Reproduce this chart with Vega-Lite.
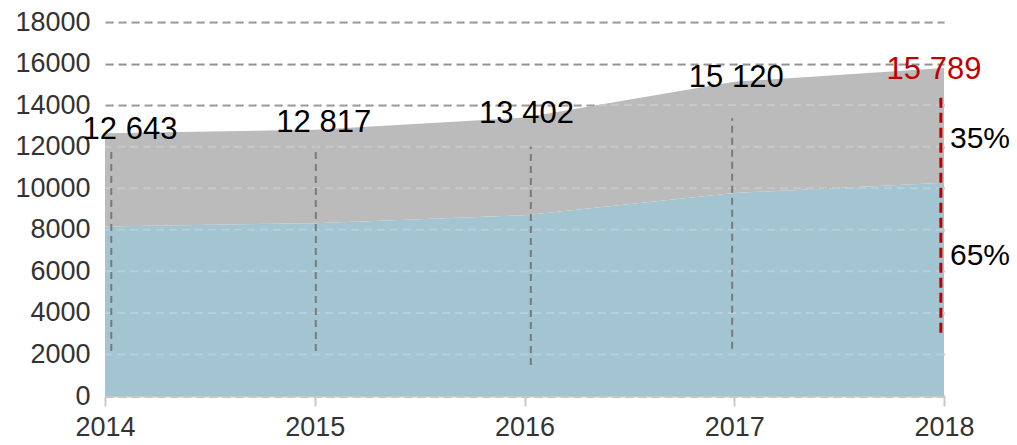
{
  "$schema": "https://vega.github.io/schema/vega-lite/v6.json",
  "width": 839,
  "height": 374,
  "autosize": {"type": "none"},
  "padding": {"left": 105, "top": 22, "right": 73, "bottom": 49},
  "config": {
    "view": {"stroke": null},
    "font": "Liberation Sans",
    "text": {"font": "Liberation Sans"}
  },
  "resolve": {"scale": {"color": "independent"}},
  "datasets": {
    "series": [
      {"year": 2014, "part": "65%", "value": 8160, "ord": 1},
      {"year": 2015, "part": "65%", "value": 8320, "ord": 1},
      {"year": 2016, "part": "65%", "value": 8700, "ord": 1},
      {"year": 2017, "part": "65%", "value": 9770, "ord": 1},
      {"year": 2018, "part": "65%", "value": 10260, "ord": 1},
      {"year": 2014, "part": "35%", "value": 4483, "ord": 2},
      {"year": 2015, "part": "35%", "value": 4497, "ord": 2},
      {"year": 2016, "part": "35%", "value": 4702, "ord": 2},
      {"year": 2017, "part": "35%", "value": 5350, "ord": 2},
      {"year": 2018, "part": "35%", "value": 5529, "ord": 2}
    ],
    "totals": [
      {"year": 2014, "total": 12643, "label": "12 643", "grp": "a"},
      {"year": 2015, "total": 12817, "label": "12 817", "grp": "b"},
      {"year": 2016, "total": 13402, "label": "13 402", "grp": "c"},
      {"year": 2017, "total": 15120, "label": "15 120", "grp": "c"},
      {"year": 2018, "total": 15789, "label": "15 789", "grp": "d"}
    ],
    "drops": [
      {"year": 2014.03, "low": 2170, "high": 12000, "kind": "grey"},
      {"year": 2015.005, "low": 2170, "high": 12000, "kind": "grey"},
      {"year": 2016.03, "low": 1490, "high": 12000, "kind": "grey"},
      {"year": 2016.99, "low": 2270, "high": 13370, "kind": "grey"},
      {"year": 2017.985, "low": 3050, "high": 14400, "kind": "red"}
    ],
    "shares": [
      {"year": 2018, "pos": 12360, "label": "35%"},
      {"year": 2018, "pos": 6750, "label": "65%"}
    ],
    "grid": [
      {"g": 2000}, {"g": 4000}, {"g": 6000}, {"g": 8000}, {"g": 10000},
      {"g": 12000}, {"g": 14000}, {"g": 16000}, {"g": 18000}
    ]
  },
  "layer": [
    {
      "data": {"name": "series"},
      "mark": {"type": "area", "interpolate": "linear"},
      "encoding": {
        "x": {
          "field": "year", "type": "quantitative",
          "scale": {"domain": [2014, 2018], "nice": false, "zero": false},
          "axis": {
            "values": [2014, 2015, 2016, 2017, 2018], "format": "d", "title": null,
            "grid": false, "domainColor": "#c8c8c8", "domainWidth": 2,
            "tickColor": "#c8c8c8", "tickWidth": 2, "tickSize": 10,
            "labelFontSize": 27, "labelColor": "#333333", "labelPadding": 8,
            "labelFont": "Liberation Sans", "labelFlush": false
          }
        },
        "y": {
          "field": "value", "type": "quantitative", "stack": "zero",
          "scale": {"domain": [0, 18000], "nice": false},
          "axis": {
            "values": [0, 2000, 4000, 6000, 8000, 10000, 12000, 14000, 16000, 18000],
            "format": "d", "title": null, "domain": false, "ticks": false,
            "grid": true, "gridColor": "#888888", "gridDash": [8, 5], "gridWidth": 2,
            "labelFontSize": 27, "labelColor": "#333333", "labelPadding": 15,
            "labelFont": "Liberation Sans"
          }
        },
        "color": {
          "field": "part", "type": "nominal",
          "scale": {"domain": ["65%", "35%"], "range": ["#a3c5d1", "#bbbbbb"]},
          "legend": null
        },
        "order": {"field": "ord", "type": "quantitative"}
      }
    },
    {
      "data": {"name": "grid"},
      "mark": {"type": "rule", "color": "#ffffff", "opacity": 0.2, "strokeWidth": 2, "strokeDash": [8, 5]},
      "encoding": {
        "y": {"field": "g", "type": "quantitative"}
      }
    },
    {
      "data": {"name": "drops"},
      "transform": [{"filter": "datum.kind === 'grey'"}],
      "mark": {"type": "rule", "strokeWidth": 2, "strokeDash": [7, 5], "color": "#7a7a7a"},
      "encoding": {
        "x": {"field": "year", "type": "quantitative"},
        "y": {"field": "low", "type": "quantitative"},
        "y2": {"field": "high"}
      }
    },
    {
      "data": {"name": "drops"},
      "transform": [{"filter": "datum.kind === 'red'"}],
      "mark": {"type": "rule", "strokeWidth": 3, "strokeDash": [10, 5], "color": "#c00000"},
      "encoding": {
        "x": {"field": "year", "type": "quantitative"},
        "y": {"field": "low", "type": "quantitative"},
        "y2": {"field": "high"}
      }
    },
    {
      "data": {"name": "totals"},
      "transform": [{"filter": "datum.grp === 'a'"}],
      "mark": {"type": "text", "fontSize": 31, "color": "#000000", "baseline": "middle", "dx": 25, "dy": -3},
      "encoding": {
        "x": {"field": "year", "type": "quantitative"},
        "y": {"field": "total", "type": "quantitative"},
        "text": {"field": "label"}
      }
    },
    {
      "data": {"name": "totals"},
      "transform": [{"filter": "datum.grp === 'b'"}],
      "mark": {"type": "text", "fontSize": 31, "color": "#000000", "baseline": "middle", "dx": 9, "dy": -7},
      "encoding": {
        "x": {"field": "year", "type": "quantitative"},
        "y": {"field": "total", "type": "quantitative"},
        "text": {"field": "label"}
      }
    },
    {
      "data": {"name": "totals"},
      "transform": [{"filter": "datum.grp === 'c'"}],
      "mark": {"type": "text", "fontSize": 31, "color": "#000000", "baseline": "middle", "dx": 2, "dy": -4},
      "encoding": {
        "x": {"field": "year", "type": "quantitative"},
        "y": {"field": "total", "type": "quantitative"},
        "text": {"field": "label"}
      }
    },
    {
      "data": {"name": "totals"},
      "transform": [{"filter": "datum.grp === 'd'"}],
      "mark": {"type": "text", "fontSize": 31, "color": "#c00000", "baseline": "middle", "dx": -10, "dy": 2},
      "encoding": {
        "x": {"field": "year", "type": "quantitative"},
        "y": {"field": "total", "type": "quantitative"},
        "text": {"field": "label"}
      }
    },
    {
      "data": {"name": "shares"},
      "mark": {"type": "text", "fontSize": 30, "color": "#000000", "baseline": "middle", "align": "left", "dx": 6},
      "encoding": {
        "x": {"field": "year", "type": "quantitative"},
        "y": {"field": "pos", "type": "quantitative"},
        "text": {"field": "label"}
      }
    }
  ]
}
